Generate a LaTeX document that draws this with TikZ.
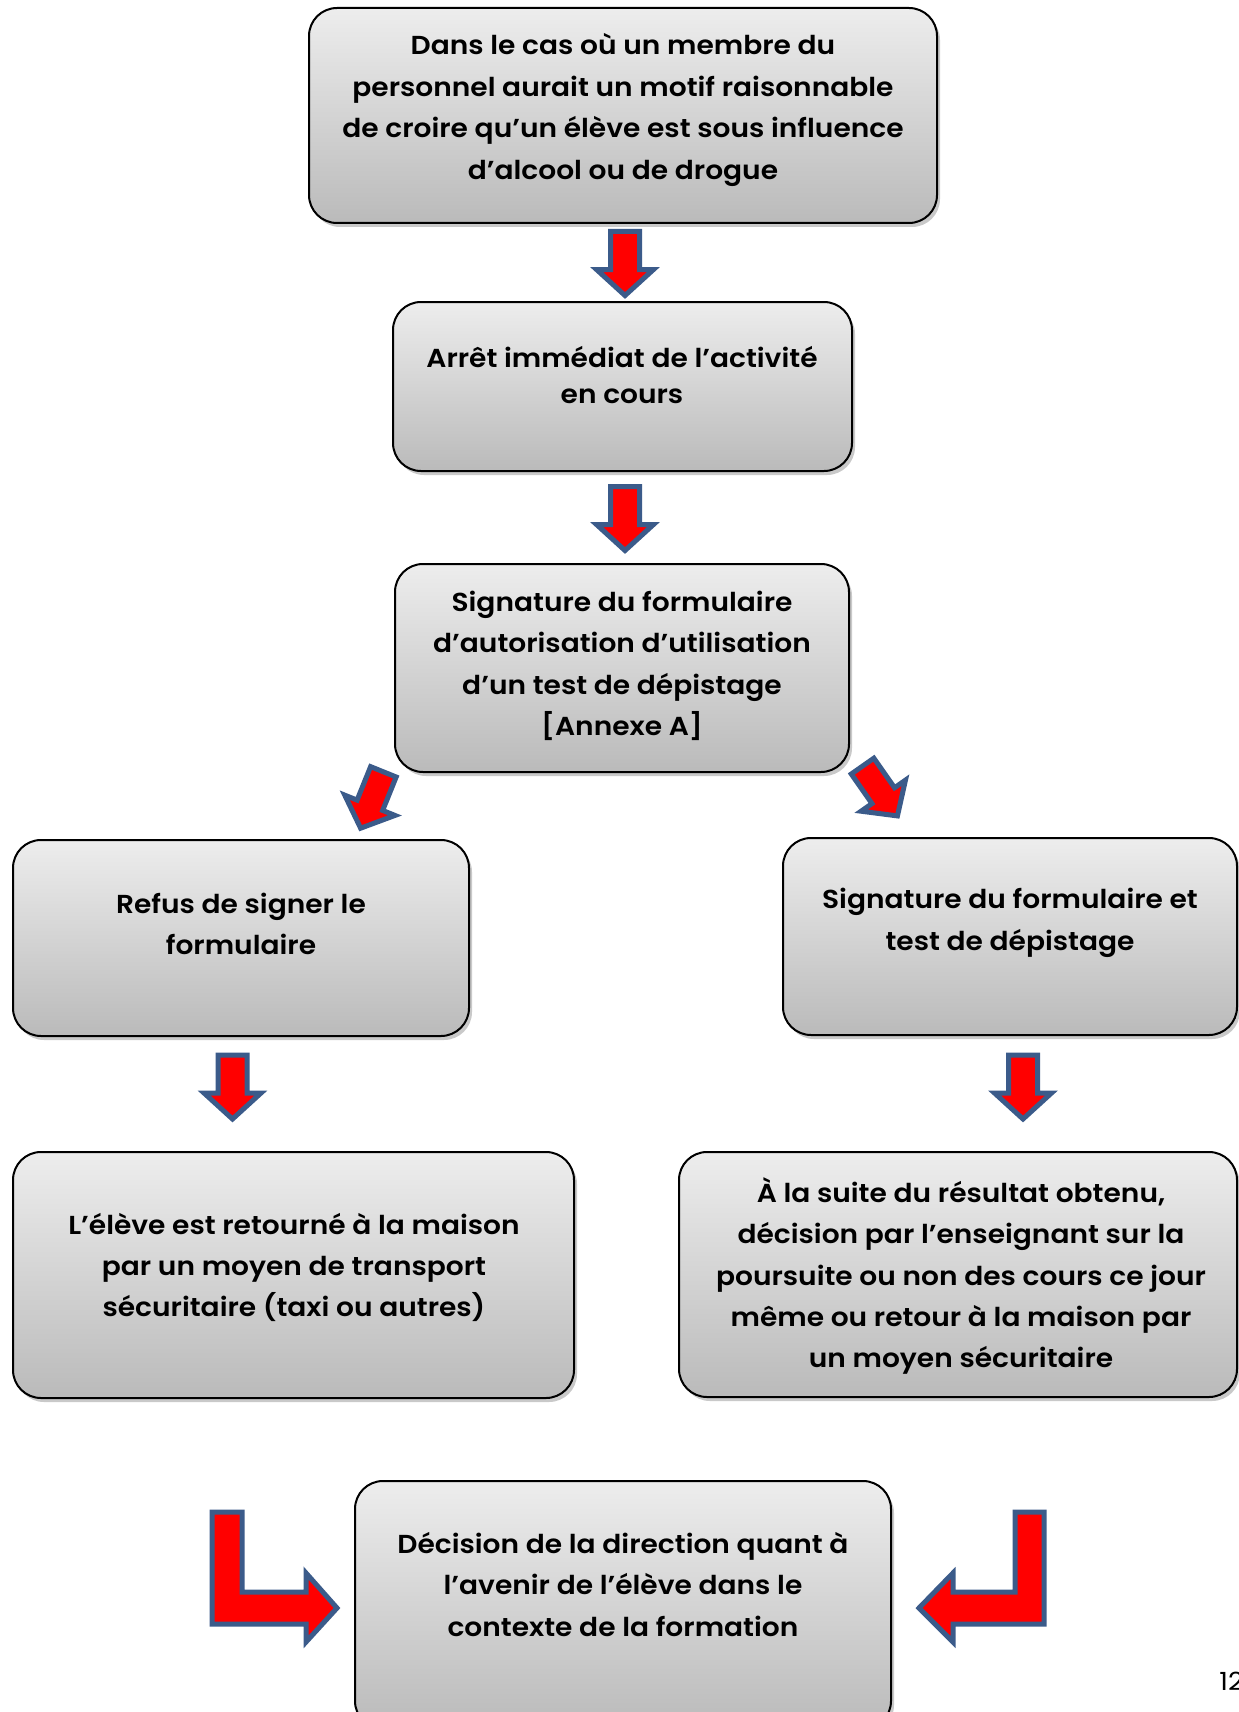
\documentclass[tikz,border=0pt]{standalone}
\usepackage{fontspec}
\setmainfont{Poppins}[BoldFont={* SemiBold}, FakeStretch=1.08]
\usetikzlibrary{shadows}
\definecolor{arrowblue}{HTML}{3B5B8A}
\definecolor{arrowred}{HTML}{FF0000}
\begin{document}
\begin{tikzpicture}[x=0.5pt,y=-0.5pt,
        box/.style={draw=black, line width=1pt, rounded corners=14pt,
            top color=black!7, bottom color=black!27,
            drop shadow={shadow xshift=1.5pt, shadow yshift=-2pt, opacity=0.3, fill=black!70}},
        txt/.style={align=center, inner sep=0pt, font=\fontsize{13}{20.7}\selectfont\bfseries},
        arrowfill/.style={line width=2.5pt, draw=arrowblue, fill=arrowred, line join=miter},
        blockarrow/.pic={\draw[arrowfill] (-14.5,-32) -- (14.5,-32) -- (14.5,6) -- (28.5,6)
            -- (0,32) -- (-28.5,6) -- (-14.5,6) -- cycle;}]
    \useasboundingbox (0,0) rectangle (1238,1712);

    % boxes
    \node [box, minimum width=314pt, minimum height=107.5pt] (start) at (623,115.5) {};
    \node [box, minimum width=229.5pt, minimum height=84.5pt] (stop) at (622.5,386.5) {};
    \node [box, minimum width=227pt, minimum height=104pt] (form) at (622,668) {};
    \node [box, minimum width=228pt, minimum height=98pt] (refus) at (241,938) {};
    \node [box, minimum width=227pt, minimum height=98.5pt] (test) at (1010,936.5) {};
    \node [box, minimum width=280.5pt, minimum height=123pt] (home) at (293.5,1275) {};
    \node [box, minimum width=279pt, minimum height=122.5pt] (result) at (958,1274.5) {};
    \node [box, minimum width=268pt, minimum height=124pt] (dir) at (623,1605) {};

    % texts
    \node [txt] (startT) at (623,110) {Dans le cas où un membre du\\personnel aurait un motif raisonnable\\de croire qu’un élève est sous influence\\d’alcool ou de drogue};
    \node [txt, font=\fontsize{13}{18}\selectfont\bfseries] (stopT) at (622,375) {Arrêt immédiat de l’activité\\en cours};
    \node [txt] (formT) at (622,666) {Signature du formulaire\\d’autorisation d’utilisation\\d’un test de dépistage\\{[}Annexe A{]}};
    \node [txt] (refusT) at (241,924) {Refus de signer le\\formulaire};
    \node [txt] (testT) at (1010,923) {Signature du formulaire et\\test de dépistage};
    \node [txt] (homeT) at (294,1267.5) {L’élève est retourné à la maison\\par un moyen de transport\\sécuritaire (taxi ou autres)};
    \node [txt] (resultT) at (961,1276) {À la suite du résultat obtenu,\\décision par l’enseignant sur la\\poursuite ou non des cours ce jour\\même ou retour à la maison par\\un moyen sécuritaire};
    \node [txt] (dirT) at (623,1584.5) {Décision de la direction quant à\\l’avenir de l’élève dans le\\contexte de la formation};

    % arrows
    \pic at (625,263.5) {blockarrow};
    \pic at (625,518.5) {blockarrow};
    \pic [rotate=-22, scale=0.95] at (372,800) {blockarrow};
    \pic [rotate=35, scale=0.95] at (880,791) {blockarrow};
    \pic at (232.5,1087) {blockarrow};
    \pic at (1023,1087) {blockarrow};

    \draw [arrowfill] (212,1512) -- (242,1512) -- (242,1592) -- (306,1592) -- (306,1573)
        -- (337,1608) -- (306,1642) -- (306,1624) -- (212,1624) -- cycle;
    \draw [arrowfill] (1044,1512) -- (1015,1512) -- (1015,1592) -- (953,1592) -- (953,1573)
        -- (919,1608) -- (953,1642) -- (953,1624) -- (1044,1624) -- cycle;

    \node [anchor=west, inner sep=0pt, font=\fontsize{12.5}{15}\selectfont] (page) at (1219,1681) {12};
\end{tikzpicture}
\end{document}
